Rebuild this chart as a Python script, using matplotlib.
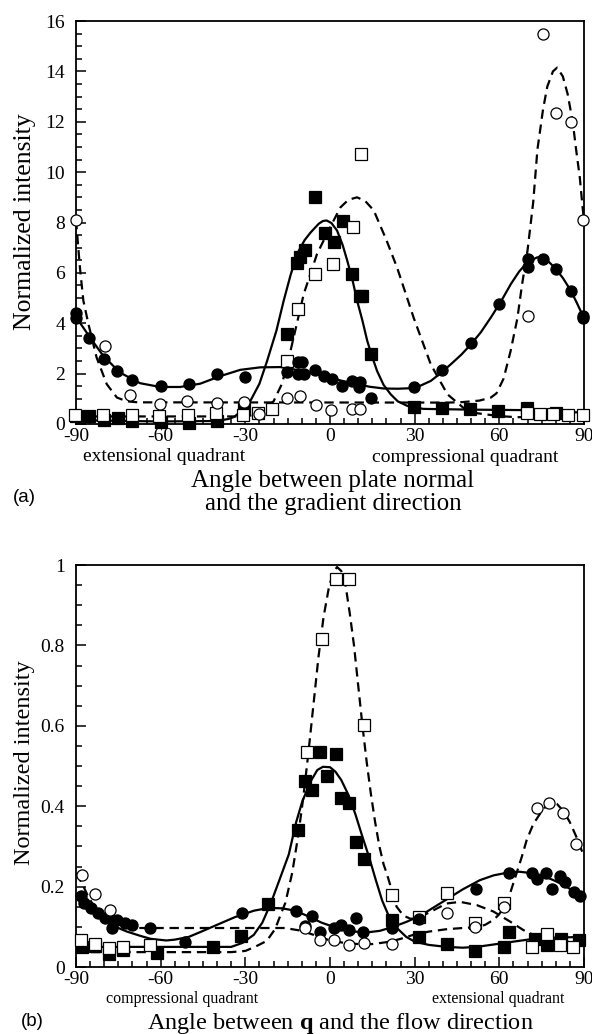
import numpy as np
import matplotlib
matplotlib.use("Agg")
import matplotlib.pyplot as plt
from matplotlib.ticker import MultipleLocator, FuncFormatter

plt.rcParams['font.family'] = ['Liberation Serif', 'DejaVu Serif']
plt.rcParams['mathtext.fontset'] = 'custom'
plt.rcParams['mathtext.rm'] = 'Liberation Serif'
plt.rcParams['mathtext.bf'] = 'Liberation Serif:bold'
plt.rcParams['mathtext.it'] = 'Liberation Serif:italic'
plt.rcParams['axes.unicode_minus'] = False

# ---------------- Panel (a) data ----------------
a_fcirc_x = [-90, -90, -85.3, -80, -75.3, -70, -60, -50, -40, -30, -15.2, -11.3, -11.3, -9.9, -9.3,
             -5.2, -2.2, 0.8, 4.3, 7.9, 10.8, 10.2, 14.4, 29.7, 39.8, 50, 60, 70, 70, 75.3, 80, 85.3, 89.8, 89.8]
a_fcirc_y = [4.4, 4.2, 3.4, 2.6, 2.1, 1.75, 1.5, 1.6, 2.0, 1.85, 2.05, 2.45, 2.0, 2.45, 2.0,
             2.15, 1.9, 1.8, 1.5, 1.7, 1.65, 1.45, 1.05, 1.45, 2.15, 3.2, 4.75, 6.55, 6.25, 6.55, 6.15, 5.3, 4.3, 4.2]

a_fsq_x = [-90, -85.3, -80, -75, -70, -60, -50, -40, -30.5, -15.2, -11.7, -10.7, -8.8, -5.2, -1.6, 1.3,
           4.7, 7.9, 10.5, 11.5, 14.4, 29.7, 39.6, 49.6, 59.6, 69.7, 80]
a_fsq_y = [0.32, 0.3, 0.15, 0.25, 0.1, 0.08, 0.05, 0.1, 0.62, 3.57, 6.4, 6.62, 6.9, 9.0, 7.57, 7.22,
           8.04, 5.96, 5.09, 5.09, 2.77, 0.68, 0.62, 0.58, 0.53, 0.62, 0.45]

a_ocirc_x = [-90, -79.7, -70.7, -60.3, -50.5, -40.2, -30.4, -25.3, -15.3, -10.6, -4.9, 0.2, 7.9, 10.8,
             70, 75.3, 80, 85.3, 89.8]
a_ocirc_y = [8.1, 3.1, 1.17, 0.78, 0.9, 0.85, 0.88, 0.4, 1.02, 1.12, 0.77, 0.54, 0.58, 0.58,
             4.3, 15.5, 12.35, 12.0, 8.1]

a_osq_x = [-90.3, -80.3, -70.3, -60.5, -50.2, -40.4, -30.7, -25.4, -20.7, -15.2, -11.3, -5.2, 1.1, 8.2, 11.0,
           69.7, 74.4, 79.1, 84.4, 89.7]
a_osq_y = [0.36, 0.36, 0.36, 0.3, 0.36, 0.42, 0.36, 0.45, 0.6, 2.5, 4.57, 5.96, 6.36, 7.81, 10.7,
           0.43, 0.4, 0.4, 0.36, 0.36]

# fitted curves
a_fit_fcirc_x = [-90, -85, -80.3, -74.4, -67.3, -60.2, -53.1, -46, -38.9, -31.8, -24.7, -17.6, -14, -8, -2.2,
                 4, 9.6, 14, 19, 24, 28.5, 32, 35.7, 39, 42.8, 46.5, 50, 53.5, 57, 60.5, 64.1, 67, 70,
                 73.5, 76.5, 79.4, 82.5, 85.3, 87.5, 90]
a_fit_fcirc_y = [4.25, 3.43, 2.7, 2.04, 1.62, 1.47, 1.47, 1.6, 1.9, 2.15, 2.25, 2.26, 2.2, 2.05, 1.91,
                 1.72, 1.58, 1.48, 1.41, 1.4, 1.42, 1.52, 1.71, 2.0, 2.37, 2.75, 3.17, 3.65, 4.23, 4.85,
                 5.56, 6.05, 6.43, 6.62, 6.55, 6.23, 5.8, 5.3, 4.8, 4.2]

a_fit_fsq_x = [-90, -60, -40, -36, -34, -31, -28.2, -25, -22.3, -19, -16.4, -14, -11.7, -9, -6.9, -4, -2.5,
               -1.2, 0.5, 2.5, 4.5, 6.1, 8, 9.6, 11.5, 13.2, 15, 16.7, 19, 21.5, 24, 27.4, 33, 50, 70, 90]
a_fit_fsq_y = [0.15, 0.1, 0.12, 0.2, 0.28, 0.55, 0.92, 1.6, 2.5, 3.7, 4.9, 5.9, 6.75, 7.3, 7.6, 7.95, 8.06,
               8.08, 7.98, 7.68, 7.1, 6.49, 5.7, 4.9, 4.1, 3.3, 2.65, 2.1, 1.55, 1.18, 0.9, 0.72, 0.6, 0.57,
               0.55, 0.45]

a_fit_ocirc_x = [-90, -88.6, -87.4, -85.6, -82.7, -79.1, -75.5, -72, -68, 42, 47, 53, 57, 59, 61.5, 64, 66.4,
                 68, 70, 72, 73.5, 75.5, 77, 79, 80.5, 82.5, 84.2, 86, 87.2, 88.5, 89.5, 90]
a_fit_ocirc_y = [8.1, 6.2, 4.9, 3.97, 2.64, 1.58, 1.05, 0.9, 0.86, 0.85, 0.87, 0.93, 1.05, 1.22, 1.8, 2.9, 4.2,
                 5.5, 6.9, 8.8, 10.9, 12.5, 13.4, 14.0, 14.15, 13.8, 13.1, 12.0, 10.9, 9.8, 8.6, 8.1]

a_fit_osq_x = [-90, -30, -25, -20, -17, -14, -9.3, -4.6, 0, 3.7, 6.5, 9.6, 12.5, 15.5, 20, 23.8, 29.7, 35.7,
               41.6, 47.5, 52, 56.7, 62, 66, 90]
a_fit_osq_y = [0.3, 0.3, 0.4, 0.9, 1.6, 2.9, 5.16, 6.75, 7.8, 8.6, 8.9, 9.0, 8.85, 8.48, 7.3, 6.2, 4.2, 2.37,
               1.18, 0.62, 0.43, 0.36, 0.3, 0.27, 0.3]

# ---------------- Panel (b) data ----------------
b_fcirc_x = [-88.2, -87, -84.6, -82.2, -79.8, -77.4, -77.4, -75.6, -72.6, -70.2, -63.8, -51.4, -31.3, -12,
             -8.9, -6.5, -3.5, 1.4, 3.8, 6.8, 9.2, 11.6, 21.8, 31.6, 51.6, 63.5, 71.5, 73.2, 76.4, 78.5,
             81.5, 83.3, 86.6, 88.6]
b_fcirc_y = [0.176, 0.16, 0.147, 0.134, 0.122, 0.118, 0.097, 0.118, 0.109, 0.105, 0.096, 0.062, 0.135, 0.14,
             0.102, 0.127, 0.088, 0.097, 0.105, 0.092, 0.122, 0.088, 0.096, 0.119, 0.193, 0.235, 0.235, 0.22,
             0.235, 0.193, 0.226, 0.212, 0.187, 0.177]

b_fsq_x = [-88, -83.3, -78.3, -73.4, -61.4, -41.5, -31.4, -21.9, -11.2, -8.8, -6.4, -3.4, -1, 2, 3.8, 6.8,
           9.2, 12.2, 21.8, 31.6, 41.3, 51.4, 61.6, 63.5, 72.6, 76.8, 82, 88.3]
b_fsq_y = [0.05, 0.053, 0.032, 0.042, 0.035, 0.05, 0.077, 0.157, 0.34, 0.462, 0.441, 0.534, 0.475, 0.529,
           0.42, 0.408, 0.311, 0.269, 0.117, 0.074, 0.057, 0.04, 0.05, 0.086, 0.069, 0.055, 0.069, 0.066]

b_ocirc_x = [-88, -83.3, -78, -8.8, -3.4, 1.4, 6.8, 12.2, 21.8, 41.3, 51.4, 61.6, 73.2, 77.5, 82.5, 87.2]
b_ocirc_y = [0.229, 0.181, 0.142, 0.097, 0.067, 0.067, 0.055, 0.059, 0.058, 0.135, 0.099, 0.15, 0.395,
             0.407, 0.382, 0.305]

b_osq_x = [-88.2, -83.3, -78.3, -73.4, -63.8, -8.2, -2.8, 2, 6.8, 12.2, 21.8, 31.6, 41.3, 51.4, 61.6,
           71.5, 76.8, 81.5, 86.2]
b_osq_y = [0.067, 0.057, 0.047, 0.05, 0.055, 0.534, 0.815, 0.966, 0.966, 0.601, 0.179, 0.125, 0.185, 0.11,
           0.159, 0.05, 0.081, 0.055, 0.049]

b_fit_fcirc_x = [-90, -85, -81.4, -76, -71.9, -67, -63.5, -58, -55, -50, -45.6, -40, -33.7, -27, -21.8, -17,
                 -12.3, -8, -2.9, 3, 9, 13, 17.7, 22.4, 27, 31.9, 36, 41.3, 47, 53.1, 58, 63.8, 67, 70.9,
                 75, 79.2, 83, 86.5, 90]
b_fit_fcirc_y = [0.178, 0.148, 0.124, 0.1, 0.088, 0.077, 0.07, 0.066, 0.068, 0.075, 0.088, 0.105, 0.124,
                 0.14, 0.147, 0.146, 0.14, 0.127, 0.11, 0.096, 0.088, 0.086, 0.09, 0.1, 0.112, 0.127, 0.145,
                 0.168, 0.193, 0.216, 0.228, 0.236, 0.237, 0.234, 0.228, 0.216, 0.203, 0.188, 0.171]

b_fit_fsq_x = [-90, -40, -35, -31, -27, -24, -21, -18, -14.6, -12, -9.9, -7, -4.5, -2.5, 0, 1.9, 4, 6.6, 9,
               11.4, 14, 16.2, 18.5, 21, 24, 27, 30, 35, 41.3, 47, 52, 58, 64.9, 70, 74.4, 80, 90]
b_fit_fsq_y = [0.05, 0.05, 0.05, 0.06, 0.08, 0.11, 0.158, 0.215, 0.28, 0.36, 0.41, 0.46, 0.49, 0.498, 0.497,
               0.486, 0.465, 0.427, 0.38, 0.326, 0.27, 0.217, 0.165, 0.124, 0.095, 0.075, 0.063, 0.055, 0.05,
               0.048, 0.05, 0.056, 0.063, 0.068, 0.071, 0.073, 0.075]

b_fit_ocirc_x = [-90, -88, -86, -84, -81, -78, -75, -72, -16, -10, -5, 0, 5, 10, 15, 21.3, 25, 29.5, 35, 41.3,
                 47, 52, 55, 57.9, 59.8, 61.4, 62.8, 63.8, 66.1, 68, 69.7, 72, 74.4, 76.5, 78.6, 80.5, 82.8,
                 85, 87.6, 90]
b_fit_ocirc_y = [0.232, 0.21, 0.18, 0.155, 0.128, 0.11, 0.1, 0.097, 0.097, 0.09, 0.078, 0.066, 0.06, 0.057,
                 0.057, 0.063, 0.07, 0.08, 0.088, 0.094, 0.097, 0.099, 0.105, 0.117, 0.13, 0.146, 0.165,
                 0.183, 0.233, 0.275, 0.316, 0.355, 0.381, 0.4, 0.41, 0.405, 0.387, 0.36, 0.319, 0.275]

b_fit_osq_x = [-90, -35, -30, -26.6, -22.4, -19.4, -17.5, -15.8, -13.4, -11.2, -9.5, -7.7, -5.9, -4.1, -2.3,
               -0.5, 1, 2.5, 4, 5.5, 7, 8.5, 10, 11.5, 13, 14.5, 16, 17.5, 19, 20.1, 21.5, 23.6, 26, 28.5,
               30.7, 35, 41.3, 46.1, 52, 57.9, 63.8, 68.5, 73.2, 78, 84, 90]
b_fit_osq_y = [0.037, 0.037, 0.04, 0.05, 0.065, 0.095, 0.13, 0.16, 0.234, 0.33, 0.42, 0.53, 0.65, 0.77, 0.87,
               0.94, 0.98, 0.995, 0.985, 0.95, 0.88, 0.8, 0.7, 0.6, 0.51, 0.43, 0.36, 0.3, 0.255, 0.233,
               0.2, 0.15, 0.128, 0.12, 0.121, 0.135, 0.158, 0.162, 0.154, 0.138, 0.113, 0.092, 0.076,
               0.068, 0.064, 0.062]

x_ticks = [-90, -60, -30, 0, 30, 60, 90]

W, H = 592, 1034
fig = plt.figure(figsize=(W / 100, H / 100), dpi=100)


def fx(px):
    return px / W


def fy(py):
    return 1 - py / H


ax_a = fig.add_axes([fx(76), fy(424), (584 - 76) / W, (424 - 21) / H])
ax_b = fig.add_axes([fx(76), fy(967), (584 - 76) / W, (967 - 565) / H])

LW = 1.6
MS_C = 8.0
MS_S = 8.2
DASH = (4.2, 2.6)


def draw(ax, fits, pts):
    for (x, y, solid) in fits:
        if solid:
            ax.plot(x, y, color='black', lw=LW, zorder=2, solid_capstyle='butt',
                    solid_joinstyle='round')
        else:
            ax.plot(x, y, color='black', lw=LW, zorder=2, dashes=DASH)
    for (x, y, mk, filled) in pts:
        ax.plot(x, y, ls='none', marker=mk, ms=MS_C if mk == 'o' else MS_S,
                mfc='black' if filled else 'white', mec='black', mew=0.9, zorder=3,
                clip_on=False)


def style(ax, ymax, ymaj, ymin, xpad):
    ax.set_xlim(-90, 90)
    ax.set_ylim(0, ymax)
    ax.set_xticks(x_ticks)
    ax.xaxis.set_minor_locator(MultipleLocator(5))
    ax.yaxis.set_major_locator(MultipleLocator(ymaj))
    ax.yaxis.set_minor_locator(MultipleLocator(ymin))
    ax.yaxis.set_major_formatter(FuncFormatter(lambda v, p: '%g' % round(v, 3)))
    ax.xaxis.set_major_formatter(FuncFormatter(lambda v, p: '%d' % v))
    ax.tick_params(which='both', direction='in', top=False, right=False, width=1.1)
    ax.tick_params(which='major', length=7, labelsize=14)
    ax.tick_params(which='minor', length=4)
    ax.tick_params(axis='y', which='major', pad=8)
    ax.tick_params(axis='x', which='major', pad=xpad)
    for s in ax.spines.values():
        s.set_linewidth(1.3)


draw(ax_a,
     [(a_fit_fcirc_x, a_fit_fcirc_y, True), (a_fit_fsq_x, a_fit_fsq_y, True),
      (a_fit_ocirc_x, a_fit_ocirc_y, False), (a_fit_osq_x, a_fit_osq_y, False)],
     [(a_fsq_x, a_fsq_y, 's', True), (a_osq_x, a_osq_y, 's', False),
      (a_fcirc_x, a_fcirc_y, 'o', True), (a_ocirc_x, a_ocirc_y, 'o', False)])
style(ax_a, 16, 2, 0.5, 3)

draw(ax_b,
     [(b_fit_fcirc_x, b_fit_fcirc_y, True), (b_fit_fsq_x, b_fit_fsq_y, True),
      (b_fit_ocirc_x, b_fit_ocirc_y, False), (b_fit_osq_x, b_fit_osq_y, False)],
     [(b_fsq_x, b_fsq_y, 's', True), (b_osq_x, b_osq_y, 's', False),
      (b_fcirc_x, b_fcirc_y, 'o', True), (b_ocirc_x, b_ocirc_y, 'o', False)])
style(ax_b, 1, 0.2, 0.05, 3)

# y labels
fig.text(fx(25), fy(222), 'Normalized intensity', rotation=90, ha='center', va='center', fontsize=18.5)
fig.text(fx(25), fy(763), 'Normalized intensity', rotation=90, ha='center', va='center', fontsize=17.5)

# panel (a) annotations
fig.text(fx(164), fy(456), 'extensional quadrant', ha='center', va='center', fontsize=14)
fig.text(fx(465), fy(457), 'compressional quadrant', ha='center', va='center', fontsize=14)
fig.text(fx(333), fy(481), 'Angle between plate normal', ha='center', va='center', fontsize=18)
fig.text(fx(333), fy(504), 'and the gradient direction', ha='center', va='center', fontsize=18)
fig.text(fx(24), fy(498), '(a)', ha='center', va='center', fontsize=13.5,
         family=['Liberation Sans', 'DejaVu Sans'])

# panel (b) annotations
fig.text(fx(182), fy(999), 'compressional quadrant', ha='center', va='center', fontsize=11.5)
fig.text(fx(498), fy(999), 'extensional quadrant', ha='center', va='center', fontsize=11.5)
fig.text(fx(340), fy(1023), r'Angle between $\mathbf{q}$ and the flow direction', ha='center',
         va='center', fontsize=17.5)
fig.text(fx(32), fy(1022), '(b)', ha='center', va='center', fontsize=13.5,
         family=['Liberation Sans', 'DejaVu Sans'])

fig.savefig('out.png', dpi=100)
